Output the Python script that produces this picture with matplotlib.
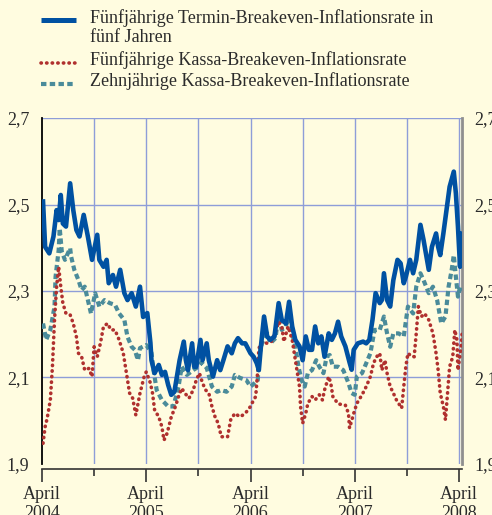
import matplotlib
matplotlib.use("Agg")
import matplotlib.pyplot as plt
from matplotlib.lines import Line2D
from matplotlib.ticker import FixedLocator

plt.rcParams['font.family'] = ['Liberation Serif', 'DejaVu Serif']

# Fünfjährige Termin-Breakeven-Inflationsrate in fünf Jahren (x: Dezimaljahr)
termin_x = [2004.26, 2004.28, 2004.32, 2004.36, 2004.39, 2004.41, 2004.43, 2004.45, 2004.48, 2004.52,
            2004.55, 2004.58, 2004.61, 2004.65, 2004.69, 2004.73, 2004.78, 2004.80, 2004.84, 2004.87,
            2004.89, 2004.93, 2004.96, 2005.00, 2005.04, 2005.07, 2005.11, 2005.15, 2005.19, 2005.22,
            2005.26, 2005.29, 2005.30, 2005.33, 2005.37, 2005.40, 2005.43, 2005.46, 2005.49, 2005.52,
            2005.55, 2005.57, 2005.61, 2005.63, 2005.65, 2005.69, 2005.71, 2005.73, 2005.77, 2005.79,
            2005.83, 2005.85, 2005.89, 2005.93, 2005.96, 2005.99, 2006.03, 2006.07, 2006.10, 2006.13,
            2006.17, 2006.20, 2006.25, 2006.28, 2006.31, 2006.33, 2006.35, 2006.38, 2006.41, 2006.44,
            2006.48, 2006.52, 2006.55, 2006.59, 2006.62, 2006.65, 2006.68, 2006.72, 2006.75, 2006.78,
            2006.81, 2006.84, 2006.87, 2006.90, 2006.93, 2006.96, 2007.00, 2007.03, 2007.06, 2007.09,
            2007.12, 2007.16, 2007.20, 2007.22, 2007.24, 2007.28, 2007.33, 2007.36, 2007.39, 2007.42,
            2007.45, 2007.49, 2007.51, 2007.53, 2007.56, 2007.59, 2007.62, 2007.66, 2007.69, 2007.72,
            2007.74, 2007.78, 2007.81, 2007.84, 2007.88, 2007.91, 2007.96, 2007.99, 2008.03, 2008.05,
            2008.07, 2008.10, 2008.13, 2008.16, 2008.20, 2008.22, 2008.24, 2008.26, 2008.27, 2008.28]
termin_y = [2.507, 2.402, 2.387, 2.426, 2.487, 2.464, 2.522, 2.456, 2.449, 2.549,
            2.487, 2.441, 2.426, 2.476, 2.426, 2.372, 2.430, 2.372, 2.356, 2.372,
            2.318, 2.337, 2.310, 2.349, 2.295, 2.279, 2.295, 2.264, 2.310, 2.240,
            2.249, 2.180, 2.140, 2.110, 2.129, 2.106, 2.113, 2.083, 2.060, 2.067,
            2.110, 2.140, 2.183, 2.140, 2.117, 2.179, 2.125, 2.125, 2.187, 2.140,
            2.179, 2.140, 2.102, 2.140, 2.117, 2.140, 2.172, 2.156, 2.179, 2.191,
            2.179, 2.179, 2.156, 2.148, 2.133, 2.117, 2.172, 2.241, 2.195, 2.187,
            2.195, 2.272, 2.233, 2.225, 2.275, 2.218, 2.187, 2.172, 2.140, 2.195,
            2.164, 2.164, 2.218, 2.179, 2.195, 2.148, 2.202, 2.187, 2.202, 2.229,
            2.195, 2.172, 2.135, 2.118, 2.164, 2.179, 2.183, 2.179, 2.187, 2.233,
            2.295, 2.272, 2.279, 2.341, 2.279, 2.264, 2.325, 2.372, 2.364, 2.318,
            2.333, 2.372, 2.341, 2.372, 2.453, 2.418, 2.349, 2.402, 2.433, 2.402,
            2.383, 2.433, 2.487, 2.541, 2.576, 2.526, 2.449, 2.356, 2.433, 2.418]

# Fünfjährige Kassa-Breakeven-Inflationsrate
kassa5_x = [2004.26, 2004.28, 2004.30, 2004.33, 2004.35, 2004.37, 2004.39, 2004.41, 2004.43, 2004.45,
            2004.48, 2004.52, 2004.55, 2004.58, 2004.60, 2004.63, 2004.66, 2004.70, 2004.73, 2004.75,
            2004.78, 2004.81, 2004.84, 2004.88, 2004.91, 2004.95, 2004.99, 2005.03, 2005.06, 2005.09,
            2005.12, 2005.15, 2005.19, 2005.23, 2005.25, 2005.29, 2005.31, 2005.33, 2005.37, 2005.40,
            2005.42, 2005.45, 2005.49, 2005.53, 2005.56, 2005.59, 2005.62, 2005.66, 2005.70, 2005.73,
            2005.76, 2005.79, 2005.82, 2005.85, 2005.88, 2005.91, 2005.94, 2005.97, 2006.03, 2006.06,
            2006.10, 2006.15, 2006.20, 2006.25, 2006.28, 2006.30, 2006.32, 2006.33, 2006.36, 2006.41,
            2006.45, 2006.49, 2006.52, 2006.55, 2006.57, 2006.61, 2006.65, 2006.67, 2006.69, 2006.72,
            2006.73, 2006.75, 2006.78, 2006.80, 2006.84, 2006.87, 2006.91, 2006.94, 2006.96, 2007.00,
            2007.02, 2007.04, 2007.09, 2007.16, 2007.19, 2007.20, 2007.24, 2007.27, 2007.32, 2007.36,
            2007.40, 2007.43, 2007.46, 2007.49, 2007.51, 2007.54, 2007.56, 2007.59, 2007.62, 2007.65,
            2007.70, 2007.72, 2007.74, 2007.76, 2007.80, 2007.82, 2007.84, 2007.86, 2007.89, 2007.92,
            2007.96, 2008.00, 2008.03, 2008.05, 2008.07, 2008.10, 2008.12, 2008.14, 2008.16, 2008.19,
            2008.21, 2008.23, 2008.24, 2008.27, 2008.28]
kassa5_y = [1.948, 1.986, 2.006, 2.048, 2.125, 2.233, 2.310, 2.356, 2.310, 2.272,
            2.248, 2.245, 2.225, 2.194, 2.156, 2.148, 2.117, 2.121, 2.102, 2.171,
            2.148, 2.179, 2.218, 2.225, 2.210, 2.210, 2.187, 2.156, 2.110, 2.064,
            2.052, 2.013, 2.064, 2.102, 2.113, 2.087, 2.064, 2.025, 2.009, 1.986,
            1.955, 1.971, 2.009, 2.033, 2.056, 2.075, 2.064, 2.052, 2.071, 2.094,
            2.110, 2.087, 2.071, 2.064, 2.033, 2.009, 1.994, 1.963, 1.963, 2.002,
            2.017, 2.009, 2.017, 2.033, 2.048, 2.056, 2.117, 2.167, 2.183, 2.179,
            2.183, 2.206, 2.229, 2.218, 2.183, 2.218, 2.187, 2.156, 2.125, 2.079,
            2.033, 1.994, 2.017, 2.040, 2.056, 2.048, 2.060, 2.048, 2.071, 2.102,
            2.087, 2.056, 2.039, 2.036, 2.017, 1.983, 2.017, 2.040, 2.060, 2.079,
            2.102, 2.133, 2.148, 2.156, 2.117, 2.140, 2.110, 2.079, 2.064, 2.048,
            2.029, 2.079, 2.125, 2.156, 2.148, 2.148, 2.202, 2.264, 2.241, 2.248,
            2.233, 2.202, 2.156, 2.117, 2.064, 2.033, 2.002, 2.064, 2.125, 2.148,
            2.210, 2.187, 2.117, 2.171, 2.202]

# Zehnjährige Kassa-Breakeven-Inflationsrate
kassa10_x = [2004.26, 2004.29, 2004.33, 2004.37, 2004.38, 2004.41, 2004.42, 2004.44, 2004.47, 2004.52,
             2004.53, 2004.56, 2004.60, 2004.63, 2004.66, 2004.69, 2004.72, 2004.76, 2004.80, 2004.85,
             2004.90, 2004.95, 2004.99, 2005.04, 2005.07, 2005.11, 2005.14, 2005.17, 2005.19, 2005.25,
             2005.30, 2005.32, 2005.35, 2005.40, 2005.46, 2005.51, 2005.56, 2005.59, 2005.64, 2005.70,
             2005.75, 2005.78, 2005.83, 2005.88, 2005.93, 2005.97, 2006.02, 2006.07, 2006.10, 2006.15,
             2006.21, 2006.25, 2006.29, 2006.32, 2006.33, 2006.36, 2006.41, 2006.44, 2006.49, 2006.52,
             2006.55, 2006.59, 2006.62, 2006.65, 2006.68, 2006.71, 2006.74, 2006.77, 2006.80, 2006.84,
             2006.88, 2006.91, 2006.95, 2006.98, 2007.01, 2007.04, 2007.09, 2007.14, 2007.19, 2007.22,
             2007.25, 2007.27, 2007.32, 2007.36, 2007.40, 2007.44, 2007.49, 2007.53, 2007.56, 2007.59,
             2007.62, 2007.67, 2007.72, 2007.76, 2007.81, 2007.84, 2007.88, 2007.91, 2007.96, 2008.00,
             2008.04, 2008.08, 2008.12, 2008.15, 2008.18, 2008.20, 2008.22, 2008.24, 2008.26, 2008.28]
kassa10_y = [2.225, 2.187, 2.210, 2.264, 2.333, 2.395, 2.445, 2.391, 2.372, 2.399,
             2.379, 2.349, 2.325, 2.302, 2.310, 2.279, 2.248, 2.295, 2.264, 2.279,
             2.272, 2.268, 2.248, 2.233, 2.194, 2.171, 2.164, 2.140, 2.168, 2.175,
             2.157, 2.117, 2.071, 2.048, 2.033, 2.033, 2.079, 2.125, 2.106, 2.117,
             2.125, 2.135, 2.122, 2.079, 2.067, 2.071, 2.067, 2.079, 2.106, 2.099,
             2.094, 2.079, 2.087, 2.094, 2.148, 2.179, 2.202, 2.179, 2.191, 2.248,
             2.210, 2.218, 2.248, 2.202, 2.172, 2.125, 2.094, 2.079, 2.110, 2.117,
             2.140, 2.125, 2.110, 2.148, 2.152, 2.125, 2.125, 2.117, 2.087, 2.064,
             2.060, 2.102, 2.110, 2.133, 2.156, 2.210, 2.210, 2.241, 2.202, 2.171,
             2.202, 2.202, 2.195, 2.264, 2.248, 2.310, 2.341, 2.325, 2.295, 2.310,
             2.279, 2.225, 2.241, 2.310, 2.349, 2.383, 2.333, 2.287, 2.310, 2.302]

labels = ["Fünfjährige Termin-Breakeven-Inflationsrate in\nfünf Jahren",
          "Fünfjährige Kassa-Breakeven-Inflationsrate",
          "Zehnjährige Kassa-Breakeven-Inflationsrate"]
y_ticks = [1.9, 2.1, 2.3, 2.5, 2.7]
x_major = [2004.25, 2005.25, 2006.25, 2007.25, 2008.25]
x_minor = [2004.75, 2005.75, 2006.75, 2007.75]
x_labels = ["April\n2004", "April\n2005", "April\n2006", "April\n2007", "April\n2008"]

bg = '#FFFCE0'
blue = '#0051A2'
red = '#B0302E'
teal = '#4A8B9A'
grid_c = '#8E9DD8'
txt_c = '#2B2B2B'
fs = 13

W, H = 492, 515
fig = plt.figure(figsize=(W / 100, H / 100), dpi=100, facecolor=bg)
ax = fig.add_axes([42 / W, 1 - 464 / H, (461.7 - 42) / W, (464 - 118) / H])
ax.set_facecolor(bg)

red_ls = (0, (0.1, 1.45))
teal_ls = (0, (1.3, 0.8))
ax.plot(kassa10_x, kassa10_y, color=teal, lw=3.0, linestyle=teal_ls,
        dash_capstyle='butt', zorder=3)
ax.plot(kassa5_x, kassa5_y, color=red, lw=2.6, linestyle=red_ls,
        dash_capstyle='round', zorder=4)
ax.plot(termin_x, termin_y, color=blue, lw=3.3, solid_joinstyle='round', zorder=5)

ax.set_xlim(2004.25, 2004.25 + (461.7 - 42) / 104.25)
ax.set_ylim(1.9, 2.7)

# Gitter
for v in y_ticks[1:]:
    ax.axhline(v, color=grid_c, lw=1, zorder=1)
for v in x_major[1:] + x_minor:
    ax.axvline(v, color=grid_c, lw=1, zorder=1)

ax.set_yticks(y_ticks)
ax.set_yticklabels([f"{v:.1f}".replace('.', ',') for v in y_ticks])
ax.xaxis.set_major_locator(FixedLocator(x_major))
ax.xaxis.set_minor_locator(FixedLocator(x_minor))
ax.set_xticklabels(x_labels, linespacing=1.1)

ax.tick_params(axis='y', length=0, pad=9, labelsize=fs, labelcolor=txt_c,
               labelleft=True, labelright=True)
ax.tick_params(axis='x', which='major', length=9, width=1.2, direction='out',
               color='#333333', pad=3, labelsize=fs, labelcolor=txt_c)
ax.tick_params(axis='x', which='minor', length=5, width=1.2, direction='out',
               color='#333333')

ax.spines['top'].set_visible(False)
ax.spines['left'].set_color('black')
ax.spines['left'].set_linewidth(1.3)
ax.spines['right'].set_color('#8F8F8F')
ax.spines['right'].set_linewidth(2)
ax.spines['bottom'].set_position(('outward', 3.5))
ax.spines['bottom'].set_color('#333333')
ax.spines['bottom'].set_linewidth(1.2)


# Legende
def fx(x):
    return x / W


def fy(y):
    return 1 - y / H


handles = [dict(color=blue, lw=3.6, ls='-', cap='butt'),
           dict(color=red, lw=2.6, ls=red_ls, cap='round'),
           dict(color=teal, lw=3.0, ls=teal_ls, cap='butt')]
rows = [20, 62.5, 83.5]
for h, lab, yy in zip(handles, labels, rows):
    fig.add_artist(Line2D([fx(41), fx(76)], [fy(yy), fy(yy)], color=h['color'], lw=h['lw'],
                          linestyle=h['ls'], dash_capstyle=h['cap'], solid_capstyle='butt'))
    fig.text(fx(90.5), fy(yy - 11), lab, fontsize=fs, color=txt_c, va='top', ha='left',
             linespacing=1.15)

fig.savefig('out.png', dpi=100, facecolor=bg)
